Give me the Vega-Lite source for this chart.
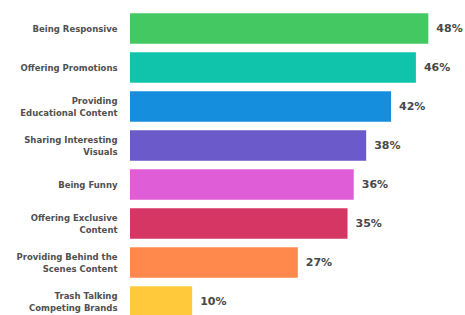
{
  "$schema": "https://vega.github.io/schema/vega-lite/v6.json",
  "width": 335,
  "height": 312,
  "autosize": {"type": "none"},
  "padding": {"left": 130, "top": 9, "right": 0, "bottom": 0},
  "background": "#ffffff",
  "config": {"view": {"stroke": null}},
  "data": {
    "values": [
      {"category": "Being Responsive", "value": 48, "label": "48%", "color": "#44c962"},
      {"category": "Offering Promotions", "value": 46, "label": "46%", "color": "#10c4ac"},
      {"category": "Providing|Educational Content", "value": 42, "label": "42%", "color": "#158ede"},
      {"category": "Sharing Interesting|Visuals", "value": 38, "label": "38%", "color": "#6b5bca"},
      {"category": "Being Funny", "value": 36, "label": "36%", "color": "#df5ed8"},
      {"category": "Offering Exclusive|Content", "value": 35, "label": "35%", "color": "#d63664"},
      {"category": "Providing Behind the|Scenes Content", "value": 27, "label": "27%", "color": "#ff884c"},
      {"category": "Trash Talking|Competing Brands", "value": 10, "label": "10%", "color": "#ffc93b"}
    ]
  },
  "encoding": {
    "y": {
      "field": "category",
      "type": "nominal",
      "sort": null,
      "scale": {"paddingInner": 0.213, "paddingOuter": 0.1065},
      "axis": {
        "title": null,
        "domain": false,
        "ticks": false,
        "labelPadding": 13,
        "labelFont": "DejaVu Sans",
        "labelFontWeight": "bold",
        "labelFontSize": 8.5,
        "labelColor": "#505050",
        "labelLineHeight": 12,
        "labelLimit": 130,
        "labelOffset": {"condition": {"test": "indexof(datum.value, '|') >= 0", "value": -6}, "value": 0},
        "labelExpr": "split(datum.label, '|')"
      }
    },
    "x": {
      "field": "value",
      "type": "quantitative",
      "scale": {"domain": [0, 53.9], "nice": false},
      "axis": null
    }
  },
  "layer": [
    {
      "mark": {"type": "bar"},
      "encoding": {
        "color": {"field": "color", "type": "nominal", "scale": null}
      }
    },
    {
      "mark": {
        "type": "text",
        "align": "left",
        "dx": 8,
        "font": "DejaVu Sans",
        "fontWeight": "bold",
        "fontSize": 11,
        "color": "#484848"
      },
      "encoding": {
        "text": {"field": "label", "type": "nominal"}
      }
    }
  ]
}
